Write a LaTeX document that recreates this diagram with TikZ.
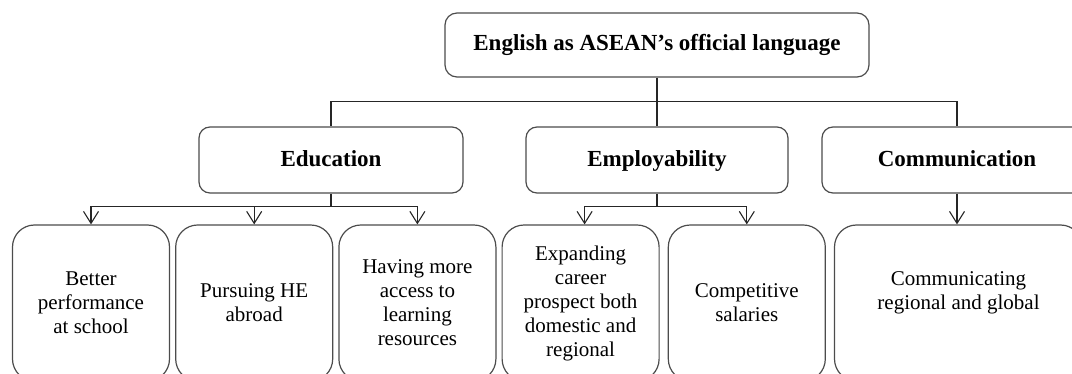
\documentclass[tikz,border=0pt]{standalone}
\usepackage{fontspec}
\setmainfont{Liberation Serif}
\usepackage{tikz}
\usetikzlibrary{positioning, arrows.meta}

\tikzset{
  topbox/.style={draw=black!70, line width=1.2pt, rounded corners=12pt,
    minimum width=424pt, minimum height=64pt, font=\fontsize{23}{26}\selectfont\bfseries},
  theme/.style={draw=black!70, line width=1.2pt, rounded corners=11pt,
    minimum height=66pt, text height=16pt, text depth=3pt,
    font=\fontsize{23}{26}\selectfont\bfseries},
  leaf/.style={draw=black!70, line width=1.2pt, rounded corners=22pt,
    minimum width=157pt, minimum height=156pt, align=center,
    font=\fontsize{21}{24}\selectfont},
  link/.style={draw=black!85, line width=1.2pt},
  down/.style={link, -{Straight Barb[length=12pt,width=15pt,line width=1.1pt]}},
}

\begin{document}
\begin{tikzpicture}[x=1pt, y=-1pt, node distance=5pt]
	\clip (0,0) rectangle (1072,374);

	\node[topbox]                          (english) at (657,45)  {English as ASEAN’s official language};
	\node[theme, minimum width=264pt]      (edu)     at (331,160) {Education};
	\node[theme, minimum width=262pt]      (emp)     at (657,160) {Employability};
	\node[theme, minimum width=270pt]      (com)     at (957,160) {Communication};

	\node[leaf]                            (better)   at (91,303) {Better\\performance\\at school};
	\node[leaf, right=5pt of better]       (abroad)   {Pursuing HE\\abroad};
	\node[leaf, right=5pt of abroad]       (access)   {Having more\\access to\\learning\\resources};
	\node[leaf, right=5pt of access]       (prospect) {Expanding\\career\\prospect both\\domestic and\\regional};
	\node[leaf, right=8pt of prospect]     (salary)   {Competitive\\salaries};
	\node[leaf, minimum width=248pt, right=8pt of salary] (reach) {Communicating\\regional and global\\ \mbox{}};

	% main branches
	\draw[link] (english.south) -- ++(0,24) coordinate (hub);
	\draw[link] (hub) -| (edu.north);
	\draw[link] (hub) -| (com.north);
	\draw[link] (hub) -- (emp.north);

	% education
	\draw[link] (edu.south) -- ++(0,13) coordinate (edu fork);
	\draw[down] (edu fork) -| (better.north);
	\draw[down] (edu fork) -| (abroad.north);
	\draw[down] (edu fork) -| (access.north);

	% employability
	\draw[link] (emp.south) -- ++(0,13) coordinate (emp fork);
	\draw[down] (emp fork) -| ([xshift=4pt]prospect.north);
	\draw[down] (emp fork) -| (salary.north);

	% communication
	\draw[down] (com.south) -- (com.south |- reach.north);
\end{tikzpicture}
\end{document}
